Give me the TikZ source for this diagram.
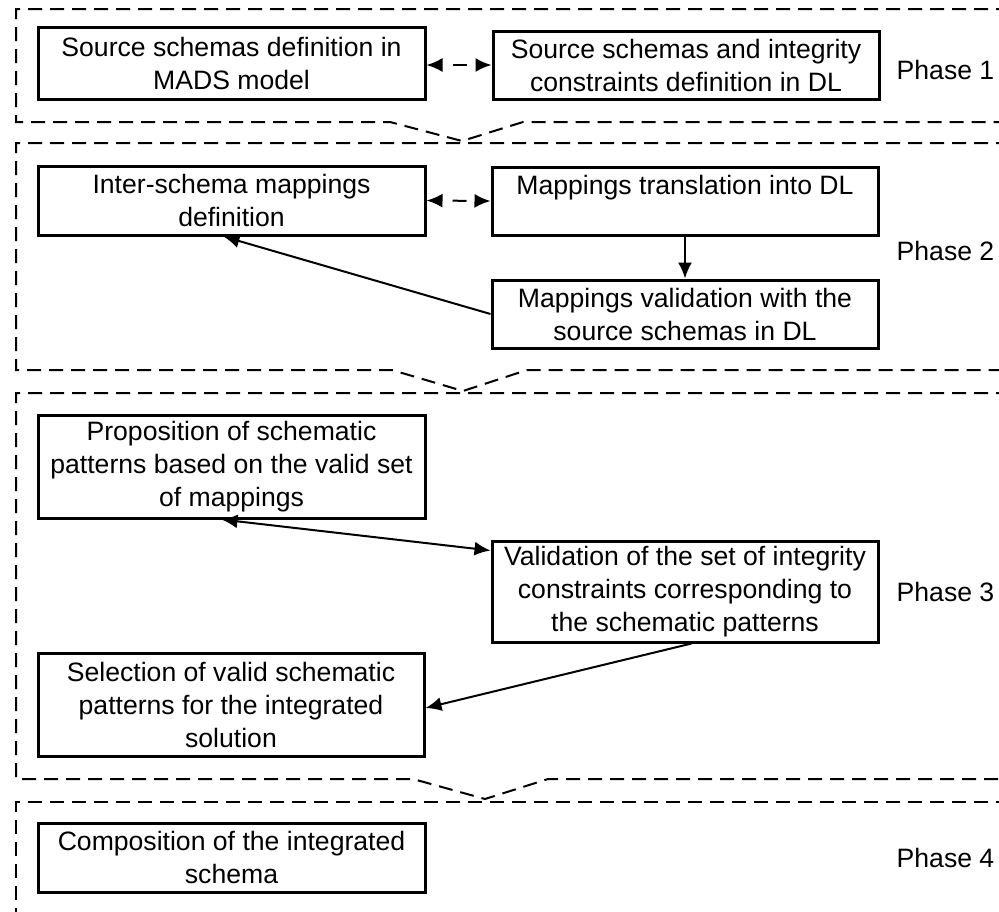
\documentclass[tikz,border=0pt]{standalone}
\usepackage{fontspec}
\setmainfont{Liberation Sans}
\usetikzlibrary{arrows.meta}

\begin{document}
\begin{tikzpicture}[x=1pt,y=-1pt,
  txt/.style={font=\fontsize{26.6}{33}\selectfont},
  stage/.style={txt, draw, line width=3pt, rectangle, inner sep=0pt, align=center},
  phaselabel/.style={txt, inner sep=0pt, anchor=center},
  panel/.style={draw, line width=2pt, dash pattern=on 14pt off 8pt},
  tip/.style={},
  flow/.style={line width=2pt, -{Latex[length=16pt,width=14pt]}},
  twoway/.style={line width=2pt, {Latex[length=16pt,width=14pt]}-{Latex[length=16pt,width=14pt]}},
  twowaydash/.style={twoway, dash pattern=on 14pt off 11pt, dash phase=14pt}
]
\clip (0,0) rectangle (999,911);
\fill[white] (0,0) rectangle (999,911);

% phase panels with their notched lower edges
\draw[panel] (1010,9) -- (16,9) -- (16,122) -- (390,122) -- (462,141) -- (523,122) -- (1010,122);
\draw[panel] (1010,143) -- (16,143) -- (16,370) -- (392,370) -- (463,391) -- (527,370) -- (1010,370);
\draw[panel] (1010,393) -- (16,393) -- (16,779) -- (413,779) -- (485,799) -- (548,779) -- (1010,779);
\draw[panel] (1010,802) -- (16,802) -- (16,920);

% phase 1
\node[stage, minimum width=387pt, minimum height=72pt] (b1) at (231.5,63)
  {Source schemas definition in\\MADS model};
\node[stage, minimum width=386pt, minimum height=68pt] (b2) at (686,65)
  {Source schemas and integrity\\constraints definition in DL};
\node[phaselabel] (p1) at (945.5,69.5) {Phase 1};

% phase 2
\node[stage, minimum width=387pt, minimum height=69pt] (b3) at (231.5,200.5)
  {Inter-schema mappings\\definition};
\node[stage, minimum width=386pt, minimum height=68pt] (b4) at (685,201)
  {Mappings translation into DL\\\mbox{}};
\node[stage, minimum width=386pt, minimum height=68pt] (b5) at (685,314)
  {Mappings validation with the\\source schemas in DL};
\node[phaselabel] (p2) at (945.5,251) {Phase 2};

% phase 3
\node[stage, minimum width=387pt, minimum height=103pt] (b6) at (231.5,466.5)
  {Proposition of schematic\\patterns based on the valid set\\of mappings};
\node[stage, minimum width=386pt, minimum height=101pt] (b7) at (685,591.5)
  {Validation of the set of integrity\\constraints corresponding to\\the schematic patterns};
\node[stage, minimum width=386pt, minimum height=103pt] (b8) at (231,704.5)
  {Selection of valid schematic\\patterns for the integrated\\solution};
\node[phaselabel] (p3) at (945.5,592) {Phase 3};

% phase 4
\node[stage, minimum width=387pt, minimum height=69pt] (b9) at (231.5,857.5)
  {Composition of the integrated\\schema};
\node[phaselabel] (p4) at (945.5,858) {Phase 4};

% connectors
\draw[twowaydash] (b2.west -| b1.east) -- (b2.west);
\draw[twowaydash] (b3.east) -- (b4.west);
\draw[flow] (b4.south) -- (b5.north);
\draw[flow] (b5.west) -- ([xshift=187pt]b3.south west);
\draw[twoway] ([xshift=185pt]b6.south west) -- ([yshift=41pt]b7.west);
\draw[flow] ([xshift=201pt]b7.south west) -- ([yshift=-3.5pt]b8.east);
\end{tikzpicture}
\end{document}
